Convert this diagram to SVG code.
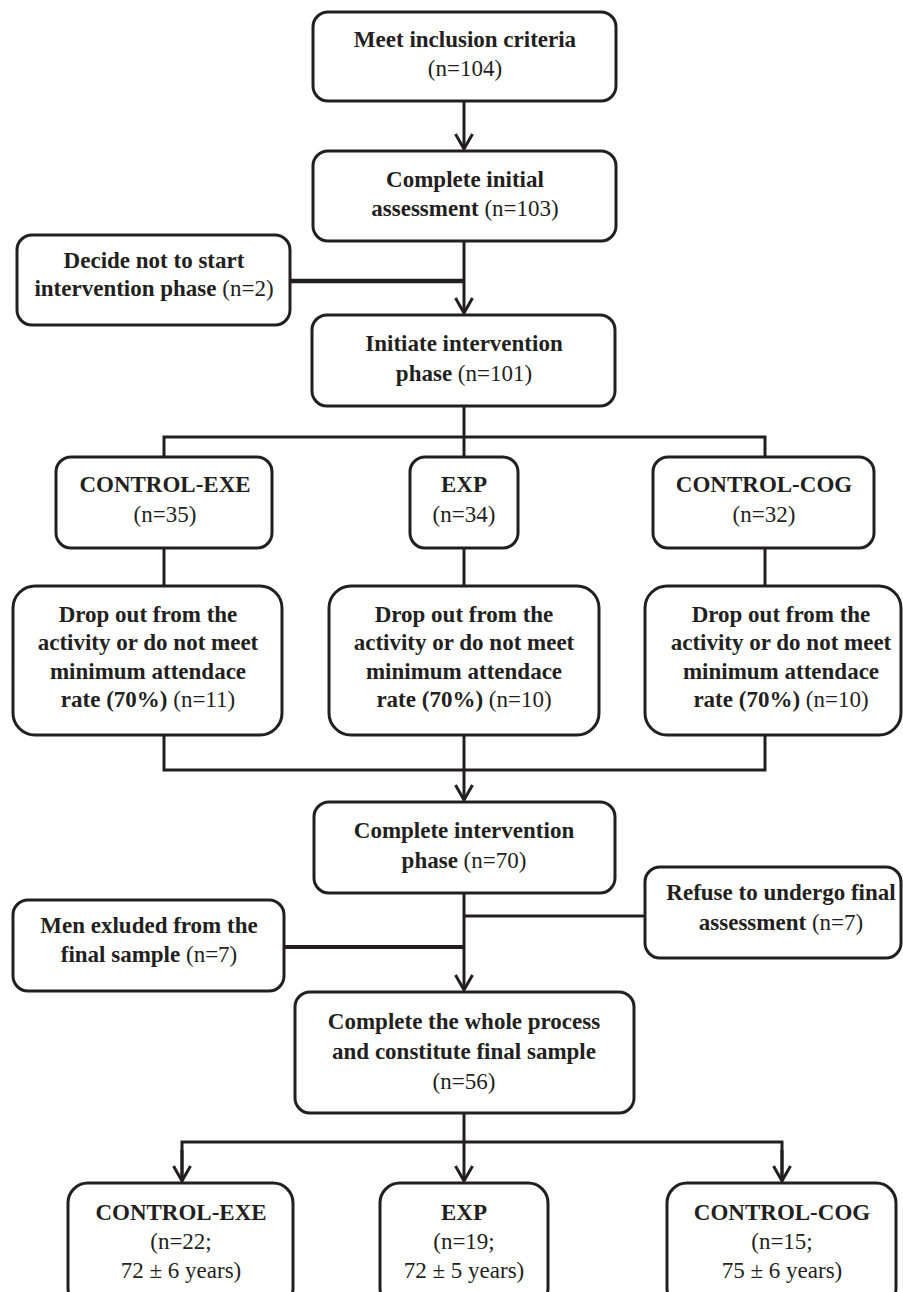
<svg xmlns="http://www.w3.org/2000/svg" width="903" height="1292" viewBox="0 0 903 1292" font-family="'Liberation Serif', 'Times New Roman', Tinos, 'DejaVu Serif', serif">
<style>
.box{fill:#fff;stroke:#231f20;stroke-width:3}
.ln{fill:none;stroke:#231f20;stroke-width:3}
text{font-family:'Liberation Serif','Times New Roman',Tinos,'DejaVu Serif',serif;font-size:23px;fill:#231f20;text-anchor:middle}
.b{font-weight:bold}
</style>
<defs>
<marker id="arr" markerUnits="userSpaceOnUse" markerWidth="24" markerHeight="24" refX="18" refY="12" orient="auto" viewBox="0 0 24 24" overflow="visible">
<path d="M3,3.5 L18,12 L3,20.5" fill="none" stroke="#231f20" stroke-width="3"/>
</marker>
</defs>
<rect width="903" height="1292" fill="#fff"/>
<g id="connectors">
<line class="ln" x1="464" y1="101" x2="464" y2="149" marker-end="url(#arr)"/>
<line class="ln" x1="464" y1="241" x2="464" y2="313" marker-end="url(#arr)"/>
<line class="ln" x1="290" y1="281" x2="465" y2="281" style="stroke-width:4.5"/>
<polyline class="ln" points="464,406 464,437"/>
<polyline class="ln" points="164,457 164,437 765,437 765,457"/>
<line class="ln" x1="464" y1="437" x2="464" y2="457"/>
<line class="ln" x1="164" y1="548" x2="164" y2="586"/>
<line class="ln" x1="464" y1="548" x2="464" y2="586"/>
<line class="ln" x1="765" y1="548" x2="765" y2="586"/>
<polyline class="ln" points="164,735 164,770 765,770 765,735"/>
<line class="ln" x1="464" y1="735" x2="464" y2="800" marker-end="url(#arr)"/>
<line class="ln" x1="464" y1="893" x2="464" y2="990" marker-end="url(#arr)"/>
<line class="ln" x1="464" y1="916" x2="645" y2="916"/>
<line class="ln" x1="284" y1="947" x2="465" y2="947" style="stroke-width:4"/>
<line class="ln" x1="464" y1="1113" x2="464" y2="1142"/>
<polyline class="ln" points="182,1181 182,1142 782,1142 782,1181"/>
<line class="ln" x1="182" y1="1150" x2="182" y2="1181" marker-end="url(#arr)"/>
<line class="ln" x1="464" y1="1142" x2="464" y2="1181" marker-end="url(#arr)"/>
<line class="ln" x1="782" y1="1150" x2="782" y2="1181" marker-end="url(#arr)"/>
</g>
<g id="n-inclusion">
<rect class="box" x="313" y="12" width="303" height="89" rx="15"/>
<text x="465" y="47" class="b">Meet inclusion criteria</text>
<text x="465" y="76">(n=104)</text>
</g>
<g id="n-initial">
<rect class="box" x="313" y="151" width="303" height="90" rx="15"/>
<text x="465" y="187" class="b">Complete initial</text>
<text x="465" y="216"><tspan class="b">assessment</tspan> (n=103)</text>
</g>
<g id="n-decide">
<rect class="box" x="17" y="235" width="273" height="90" rx="15"/>
<text x="154" y="268" class="b">Decide not to start</text>
<text x="154" y="296"><tspan class="b">intervention phase</tspan> (n=2)</text>
</g>
<g id="n-initiate">
<rect class="box" x="312" y="315" width="303" height="91" rx="15"/>
<text x="464" y="351" class="b">Initiate intervention</text>
<text x="464" y="381"><tspan class="b">phase</tspan> (n=101)</text>
</g>
<g id="n-ctrl-exe">
<rect class="box" x="56" y="457" width="216" height="91" rx="15"/>
<text x="165" y="492" class="b">CONTROL-EXE</text>
<text x="165" y="522">(n=35)</text>
</g>
<g id="n-exp">
<rect class="box" x="410" y="457" width="108" height="91" rx="15"/>
<text x="464" y="492" class="b">EXP</text>
<text x="464" y="522">(n=34)</text>
</g>
<g id="n-ctrl-cog">
<rect class="box" x="653" y="457" width="221" height="91" rx="15"/>
<text x="764" y="492" class="b">CONTROL-COG</text>
<text x="764" y="522">(n=32)</text>
</g>
<g id="n-drop-exe">
<rect class="box" x="13" y="586" width="269" height="149" rx="22"/>
<text x="148" y="622" class="b">Drop out from the</text>
<text x="148" y="650" class="b">activity or do not meet</text>
<text x="148" y="679" class="b">minimum attendace</text>
<text x="148" y="707"><tspan class="b">rate (70%)</tspan> (n=11)</text>
</g>
<g id="n-drop-exp">
<rect class="box" x="329" y="586" width="270" height="149" rx="22"/>
<text x="464" y="622" class="b">Drop out from the</text>
<text x="464" y="650" class="b">activity or do not meet</text>
<text x="464" y="679" class="b">minimum attendace</text>
<text x="464" y="707"><tspan class="b">rate (70%)</tspan> (n=10)</text>
</g>
<g id="n-drop-cog">
<rect class="box" x="645" y="586" width="256" height="149" rx="22"/>
<text x="781" y="622" class="b">Drop out from the</text>
<text x="781" y="650" class="b">activity or do not meet</text>
<text x="781" y="679" class="b">minimum attendace</text>
<text x="781" y="707"><tspan class="b">rate (70%)</tspan> (n=10)</text>
</g>
<g id="n-complete-int">
<rect class="box" x="314" y="802" width="301" height="91" rx="15"/>
<text x="464" y="838" class="b">Complete intervention</text>
<text x="464" y="868"><tspan class="b">phase</tspan> (n=70)</text>
</g>
<g id="n-refuse">
<rect class="box" x="645" y="867" width="256" height="91" rx="15"/>
<text x="781" y="900" class="b">Refuse to undergo final</text>
<text x="781" y="930"><tspan class="b">assessment</tspan> (n=7)</text>
</g>
<g id="n-men">
<rect class="box" x="13" y="900" width="271" height="91" rx="15"/>
<text x="149" y="933" class="b">Men exluded from the</text>
<text x="149" y="962"><tspan class="b">final sample</tspan> (n=7)</text>
</g>
<g id="n-final">
<rect class="box" x="295" y="992" width="339" height="121" rx="15"/>
<text x="464" y="1029" class="b">Complete the whole process</text>
<text x="464" y="1059" class="b">and constitute final sample</text>
<text x="464" y="1089">(n=56)</text>
</g>
<g id="n-final-exe">
<rect class="box" x="68" y="1183" width="225" height="125" rx="20"/>
<text x="181" y="1220" class="b">CONTROL-EXE</text>
<text x="181" y="1249">(n=22;</text>
<text x="181" y="1278">72 ± 6 years)</text>
</g>
<g id="n-final-exp">
<rect class="box" x="380" y="1183" width="168" height="125" rx="20"/>
<text x="464" y="1220" class="b">EXP</text>
<text x="464" y="1249">(n=19;</text>
<text x="464" y="1278">72 ± 5 years)</text>
</g>
<g id="n-final-cog">
<rect class="box" x="667" y="1183" width="229" height="125" rx="20"/>
<text x="782" y="1220" class="b">CONTROL-COG</text>
<text x="782" y="1249">(n=15;</text>
<text x="782" y="1278">75 ± 6 years)</text>
</g>
</svg>
